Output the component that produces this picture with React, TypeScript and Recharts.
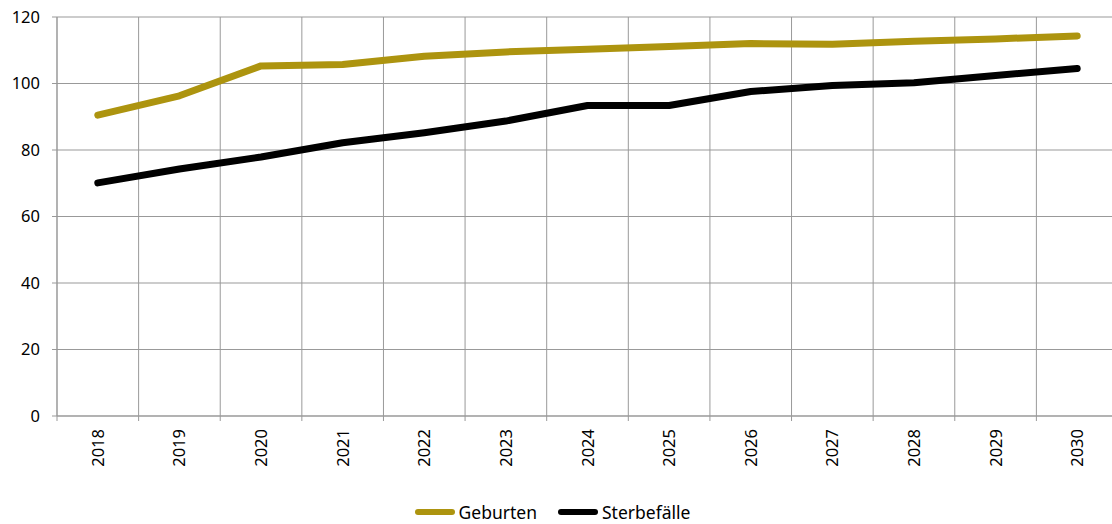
import React from "react";
import { LineChart, Line, XAxis, YAxis, CartesianGrid } from "recharts";

const years = ["2018", "2019", "2020", "2021", "2022", "2023", "2024", "2025", "2026", "2027", "2028", "2029", "2030"];
const geburten = [90.5, 96.3, 105.3, 105.7, 108.2, 109.5, 110.3, 111.1, 112.0, 111.8, 112.7, 113.4, 114.3];
const sterbefaelle = [70.1, 74.3, 77.9, 82.2, 85.2, 88.7, 93.4, 93.4, 97.6, 99.4, 100.2, 102.4, 104.5];
const yTicks = [0, 20, 40, 60, 80, 100, 120];
const seriesNames = ["Geburten", "Sterbefälle"];
const seriesColors = ["#AD940F", "#000000"];

const data = years.map((y, i) => ({ year: y, g: geburten[i], s: sterbefaelle[i] }));

const CHART_W = 1120;
const CHART_H = 524;
const MARGIN = { top: 17, right: 2, left: 0, bottom: 0 };
const Y_W = 57;
const X_H = 108;
const PLOT_W = CHART_W - MARGIN.left - MARGIN.right - Y_W;
const FONT = "'Noto Sans', 'Open Sans', sans-serif";
const GRID = "#999999";

const XTick = (props: any) => {
  const { x, payload, index } = props;
  const bw = PLOT_W / years.length;
  return (
    <g>
      <line x1={x - bw / 2} x2={x - bw / 2} y1={416} y2={421} stroke={GRID} strokeWidth={1} />
      {index === years.length - 1 && (
        <line x1={x + bw / 2} x2={x + bw / 2} y1={416} y2={421} stroke={GRID} strokeWidth={1} />
      )}
      <text
        x={x + 6}
        y={429}
        transform={`rotate(-90, ${x + 6}, 429)`}
        textAnchor="end"
        fontSize={16.5}
        fontFamily={FONT}
        fill="#000"
      >
        {payload.value}
      </text>
    </g>
  );
};

const vGen = (props: any) => {
  const left = props?.offset?.left ?? Y_W;
  const width = props?.offset?.width ?? PLOT_W;
  const n = years.length;
  return Array.from({ length: n + 1 }, (_, i) => left + (i * width) / n);
};

export default function App() {
  return (
    <div style={{ position: "fixed", left: 0, top: 0, width: 1112, height: 524, overflow: "hidden", background: "#fff" }}>
      <LineChart width={CHART_W} height={CHART_H} data={data} margin={MARGIN}>
        <CartesianGrid stroke={GRID} strokeWidth={1} verticalCoordinatesGenerator={vGen} />
        <XAxis
          dataKey="year"
          scale="band"
          height={X_H}
          interval={0}
          axisLine={{ stroke: GRID }}
          tickLine={false}
          tick={<XTick />}
        />
        <YAxis
          width={Y_W}
          domain={[0, 120]}
          ticks={yTicks}
          interval={0}
          axisLine={{ stroke: GRID }}
          tickLine={{ stroke: GRID }}
          tickSize={5}
          tickMargin={12}
          tick={{ fill: "#000", fontSize: 16.5, fontFamily: FONT }}
        />
        <Line dataKey="g" name={seriesNames[0]} stroke={seriesColors[0]} strokeWidth={7} dot={false} isAnimationActive={false} strokeLinecap="round" strokeLinejoin="round" />
        <Line dataKey="s" name={seriesNames[1]} stroke={seriesColors[1]} strokeWidth={7} dot={false} isAnimationActive={false} strokeLinecap="round" strokeLinejoin="round" />
      </LineChart>
      <div style={{ position: "absolute", left: 0, top: 500, width: 1112, height: 24, display: "flex", justifyContent: "center", alignItems: "center", fontFamily: FONT, fontSize: 17.5, color: "#000", paddingRight: 7, boxSizing: "border-box" }}>
        {seriesNames.map((n, i) => (
          <div key={n} style={{ display: "flex", alignItems: "center", marginRight: i === 0 ? 21 : 0 }}>
            <svg width={40} height={10} style={{ marginRight: 4 }}>
              <line x1={3} x2={37} y1={5} y2={5} stroke={seriesColors[i]} strokeWidth={6} strokeLinecap="round" />
            </svg>
            <span>{n}</span>
          </div>
        ))}
      </div>
    </div>
  );
}
